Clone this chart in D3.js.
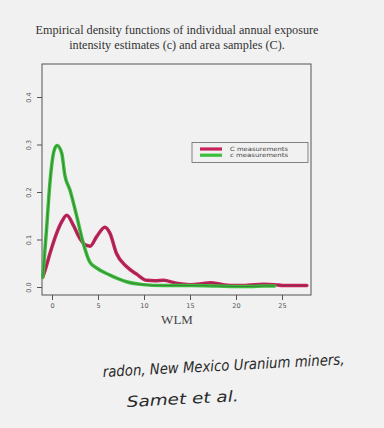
<!DOCTYPE html>
<html>
<head>
<meta charset="utf-8">
<script src="https://cdn.jsdelivr.net/npm/d3@7"></script>
<style>
  body { margin: 0; background: #f1f1f1; }
  svg { display: block; }
</style>
</head>
<body>
<div id="wrapper"></div>
<script>
// Data
const titleLines = [
  'Empirical density functions of individual annual exposure',
  'intensity estimates (c) and area samples (C).'
];
const xTicks = [0, 5, 10, 15, 20, 25];
const yTicks = [0, 0.1, 0.2, 0.3, 0.4];
const yTickLabels = ['0.0', '0.1', '0.2', '0.3', '0.4'];
const seriesNames = ['C measurements', 'c measurements'];

// area samples (C)
const areaX = [-1.0, -0.6, -0.2, 0.5, 1.05, 1.6, 2.3, 3.0, 3.7, 4.15, 4.85, 5.75, 6.3, 7.0, 8.1, 9.2, 10.3, 11.2, 12.1, 13.5, 15.0, 16.3, 17.2, 18.6, 20.0, 20.8, 21.5, 23.0, 24.2, 25.1, 26.5, 27.7];
const areaY = [0.021, 0.045, 0.072, 0.113, 0.137, 0.151, 0.131, 0.103, 0.088, 0.086, 0.106, 0.126, 0.113, 0.071, 0.043, 0.027, 0.014, 0.013, 0.014, 0.008, 0.005, 0.007, 0.009, 0.005, 0.003, 0.003, 0.004, 0.006, 0.005, 0.003, 0.003, 0.003];

// individual estimates (c)
const indivX = [-1.0, -0.6, -0.2, 0.2, 0.55, 1.05, 1.4, 1.95, 2.7, 3.4, 4.1, 4.85, 6.3, 8.1, 9.9, 12.0, 15.0, 18.0, 20.0, 21.5, 23.0, 24.2];
const indivY = [0.021, 0.12, 0.225, 0.285, 0.298, 0.282, 0.235, 0.204, 0.148, 0.092, 0.053, 0.040, 0.025, 0.011, 0.005, 0.003, 0.003, 0.002, 0.001, 0.001, 0.002, 0.002];

const colors = ['#c8235c', '#3dbe3d'];

const note1 = 'radon, New Mexico Uranium miners,';
const note2 = 'Samet et al.';

const dimensions = {
  width: 384,
  height: 428,
  box: { left: 42, top: 64, right: 311, bottom: 295 }
};

const svg = d3.select('#wrapper')
  .append('svg')
  .attr('width', dimensions.width)
  .attr('height', dimensions.height);

const xScale = d3.scaleLinear().domain([0, 25]).range([52, 282]);
const yScale = d3.scaleLinear().domain([0, 0.4]).range([287, 97]);

// title
svg.append('g')
  .selectAll('text')
  .data(titleLines)
  .join('text')
  .attr('x', 177)
  .attr('y', (d, i) => 34 + i * 15)
  .attr('text-anchor', 'middle')
  .attr('font-family', 'Liberation Serif, serif')
  .attr('font-size', 12.2)
  .attr('fill', '#333')
  .text(d => d);

// frame
const b = dimensions.box;
svg.append('rect')
  .attr('x', b.left)
  .attr('y', b.top)
  .attr('width', b.right - b.left)
  .attr('height', b.bottom - b.top)
  .attr('fill', 'none')
  .attr('stroke', '#555')
  .attr('stroke-width', 1);

// axes, R style
const xAxis = d3.axisBottom(xScale).tickValues(xTicks).tickSize(5).tickPadding(3);
const gx = svg.append('g')
  .attr('transform', `translate(0, ${b.bottom})`)
  .call(xAxis);
gx.select('.domain').remove();
gx.selectAll('line').attr('stroke', '#555');
gx.selectAll('text')
  .attr('font-family', 'DejaVu Sans, sans-serif')
  .attr('font-size', 6.5)
  .attr('fill', '#555');

const yAxis = d3.axisLeft(yScale).tickValues(yTicks).tickFormat((d, i) => yTickLabels[i]).tickSize(5);
const gy = svg.append('g')
  .attr('transform', `translate(${b.left}, 0)`)
  .call(yAxis);
gy.select('.domain').remove();
gy.selectAll('line').attr('stroke', '#555');
gy.selectAll('text')
  .attr('font-family', 'DejaVu Sans, sans-serif')
  .attr('font-size', 6.5)
  .attr('fill', '#555')
  .attr('text-anchor', 'middle')
  .attr('x', 0)
  .attr('y', 0)
  .attr('dy', '0.35em')
  .attr('transform', 'translate(-13, 0) rotate(-90)');

svg.append('text')
  .attr('x', 177)
  .attr('y', 324)
  .attr('text-anchor', 'middle')
  .attr('font-family', 'Liberation Serif, serif')
  .attr('font-size', 13)
  .attr('fill', '#444')
  .text('WLM');

// curves
const line = d3.line()
  .x(d => xScale(d[0]))
  .y(d => yScale(d[1]))
  .curve(d3.curveMonotoneX);

const series = [
  d3.zip(areaX, areaY),
  d3.zip(indivX, indivY)
];

series.forEach((s, i) => {
  svg.append('path')
    .datum(s)
    .attr('d', line)
    .attr('fill', 'none')
    .attr('stroke', colors[i])
    .attr('stroke-width', 3.5)
    .attr('stroke-linejoin', 'round')
    .attr('stroke-linecap', 'round');
  svg.append('path')
    .datum(s)
    .attr('d', line)
    .attr('fill', 'none')
    .attr('stroke', '#333')
    .attr('stroke-opacity', 0.55)
    .attr('stroke-width', 0.8);
});

// legend
const legend = svg.append('g').attr('id', 'legend');
legend.append('rect')
  .attr('x', 192)
  .attr('y', 142.5)
  .attr('width', 116)
  .attr('height', 20)
  .attr('fill', 'none')
  .attr('stroke', '#666')
  .attr('stroke-width', 0.8);

seriesNames.forEach((name, i) => {
  legend.append('line')
    .attr('x1', 200)
    .attr('x2', 222)
    .attr('y1', 149 + i * 6.2)
    .attr('y2', 149 + i * 6.2)
    .attr('stroke', colors[i])
    .attr('stroke-width', 3.2);
  legend.append('text')
    .attr('x', 230)
    .attr('y', 151 + i * 6.2)
    .attr('font-family', 'DejaVu Sans, sans-serif')
    .attr('font-size', 5.8)
    .attr('textLength', 58)
    .attr('lengthAdjust', 'spacingAndGlyphs')
    .attr('fill', '#444')
    .text(name);
});

// handwritten note
const note = svg.append('g')
  .attr('font-family', 'DejaVu Sans, sans-serif')
  .attr('font-style', 'italic')
  .attr('font-size', 15)
  .attr('fill', '#2a2a2a');
note.append('text')
  .attr('transform', 'translate(103, 377) rotate(-3)')
  .attr('textLength', 242)
  .attr('lengthAdjust', 'spacingAndGlyphs')
  .text(note1);
note.append('text')
  .attr('transform', 'translate(127, 407) rotate(-3)')
  .attr('textLength', 112)
  .attr('lengthAdjust', 'spacingAndGlyphs')
  .text(note2);
</script>
</body>
</html>
